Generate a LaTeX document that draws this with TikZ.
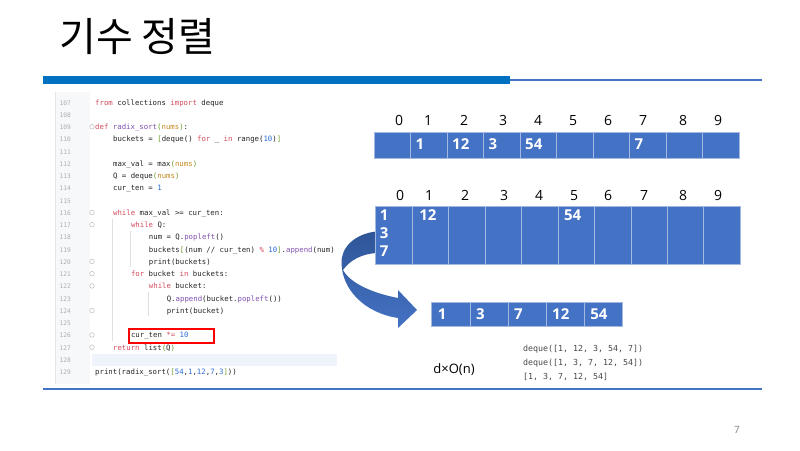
\documentclass[tikz,border=0pt]{standalone}
\usepackage{fontspec}
\setmainfont{Open Sans}
\setmonofont{DejaVu Sans Mono}
\newfontfamily\krfont{Noto Sans CJK KR}

\definecolor{cellblue}{HTML}{4472C4}
\definecolor{cellline}{HTML}{A4B9E2}
\definecolor{barblue}{HTML}{0070C0}
\definecolor{arrowdark}{HTML}{2F5597}
\definecolor{codekw}{HTML}{D14B5C}
\definecolor{codefn}{HTML}{8050B0}
\definecolor{codearg}{HTML}{C28A20}
\definecolor{codenum}{HTML}{2B6CD8}
\definecolor{codebr}{HTML}{6E9B2E}
\definecolor{codetxt}{HTML}{262626}
\definecolor{linenum}{HTML}{ADADAD}
\definecolor{gutter}{HTML}{F7F8FA}
\definecolor{curline}{HTML}{EEF3FC}

\newcommand{\ckw}[1]{\textcolor{codekw}{#1}}
\newcommand{\cfn}[1]{\textcolor{codefn}{#1}}
\newcommand{\carg}[1]{\textcolor{codearg}{#1}}
\newcommand{\cnum}[1]{\textcolor{codenum}{#1}}
\newcommand{\cbr}[1]{\textcolor{codebr}{#1}}
% code line positions
\newcommand{\codey}[1]{105+12.25*(#1-107)}
\newcommand{\codex}[1]{95+17.9*#1}

\tikzset{
  cell/.style={draw=cellline, fill=cellblue, line width=0.6pt, inner sep=0pt, outer sep=0pt, anchor=north west},
  val/.style={text=white, font=\fontsize{15}{18}\selectfont\bfseries, inner sep=1pt, align=left},
  idx/.style={font=\fontsize{14}{16}\selectfont, inner sep=0pt, anchor=base},
  code/.style={anchor=base west, inner sep=0pt, font=\ttfamily\fontsize{7.35}{9}\selectfont, text=codetxt},
  lnum/.style={anchor=base east, inner sep=0pt, font=\ttfamily\fontsize{6.2}{8}\selectfont, text=linenum},
  outline/.style={anchor=base west, inner sep=0pt, font=\ttfamily\fontsize{8.3}{10}\selectfont, text=black!72},
  fold/.style={draw=black!25, fill=white, line width=0.5pt},
  guide/.style={draw=black!12, line width=0.6pt},
}

\begin{document}
\begin{tikzpicture}[x=1pt, y=-1pt]
  \useasboundingbox (0,0) rectangle (800,450);

  % title and rules
  \node[anchor=west, inner sep=0pt, font=\krfont\fontsize{40}{44}\selectfont] (title) at (59,37) {기수 정렬};
  \fill[barblue] (43,76) rectangle (510,84);
  \draw[cellblue, line width=2pt] (510,79.5) -- (762,79.5);
  \draw[cellblue, line width=2.5pt] (43,389) -- (762,389);
  \node[font=\fontsize{10}{12}\selectfont, text=black!50] (pagenum) at (737,430) {7};

  % code panel
  \fill[gutter] (55,92) rectangle (90,384);
  \draw[black!10] (55,92) -- (55,384);
  \fill[curline] (92,353.5) rectangle (337,365.8);
  \foreach \n in {107,...,129}
    \node[lnum] (n\n) at ({71},{\codey{\n}}) {\n};
  \foreach \n in {109,116,117,120,121,122,124,126,127}
    \draw[fold] ({92},{\codey{\n}-2.8}) circle (2.3);
  \draw[guide] (112,{\codey{117}-9}) -- (112,{\codey{126}+3});
  \draw[guide] (130,{\codey{118}-9}) -- (130,{\codey{120}+3});
  \draw[guide] (148,{\codey{123}-9}) -- (148,{\codey{124}+3});

  \node[code] (l107) at ({\codex{0}},{\codey{107}}) {\ckw{from} collections \ckw{import} deque};
  \node[code] (l109) at ({\codex{0}},{\codey{109}}) {\ckw{def} \cfn{radix\_sort}\cbr{(}\carg{nums}\cbr{)}:};
  \node[code] (l110) at ({\codex{1}},{\codey{110}}) {buckets = \cbr{[}deque() \ckw{for} \_ \ckw{in} range(\cnum{10})\cbr{]}};
  \node[code] (l112) at ({\codex{1}},{\codey{112}}) {max\_val = max\cbr{(}\carg{nums}\cbr{)}};
  \node[code] (l113) at ({\codex{1}},{\codey{113}}) {Q = deque\cbr{(}\carg{nums}\cbr{)}};
  \node[code] (l114) at ({\codex{1}},{\codey{114}}) {cur\_ten = \cnum{1}};
  \node[code] (l116) at ({\codex{1}},{\codey{116}}) {\ckw{while} max\_val >= cur\_ten:};
  \node[code] (l117) at ({\codex{2}},{\codey{117}}) {\ckw{while} Q:};
  \node[code] (l118) at ({\codex{3}},{\codey{118}}) {num = Q.\cfn{popleft}()};
  \node[code] (l119) at ({\codex{3}},{\codey{119}}) {buckets\cbr{[}(num // cur\_ten) \ckw{\%} \cnum{10}\cbr{]}.\cfn{append}(num)};
  \node[code] (l120) at ({\codex{3}},{\codey{120}}) {print(buckets)};
  \node[code] (l121) at ({\codex{2}},{\codey{121}}) {\ckw{for} bucket \ckw{in} buckets:};
  \node[code] (l122) at ({\codex{3}},{\codey{122}}) {\ckw{while} bucket:};
  \node[code] (l123) at ({\codex{4}},{\codey{123}}) {Q.\cfn{append}(bucket.\cfn{popleft}())};
  \node[code] (l124) at ({\codex{4}},{\codey{124}}) {print(bucket)};
  \node[code] (l126) at ({\codex{2}},{\codey{126}}) {cur\_ten \ckw{*=} \cnum{10}};
  \node[code] (l127) at ({\codex{1}},{\codey{127}}) {\ckw{return} list\cbr{(}Q\cbr{)}};
  \node[code] (l129) at ({\codex{0}},{\codey{129}}) {print(radix\_sort(\cbr{[}\cnum{54},\cnum{1},\cnum{12},\cnum{7},\cnum{3}\cbr{]}))};
  \node[draw=red, line width=1.8pt, minimum width=85.6pt, minimum height=14pt, anchor=north west, inner sep=0pt] (curbox) at (127.7,327.7) {};

  % curved arrow
  \shade[top color=arrowdark, bottom color=cellblue]
    (376,231.5) .. controls (355,234) and (341,247) .. (341.5,263)
    .. controls (342,290) and (365,313) .. (398,318)
    -- (398,328) -- (417,310) -- (398,290) -- (398,298)
    .. controls (372,293) and (350,283) .. (343,270)
    .. controls (350,260) and (362,254) .. (376,253) -- cycle;

  % first pass buckets
  \foreach \i/\x in {0/399,1/428,2/464,3/503,4/538,5/573,6/608,7/643,8/683,9/718}
    \node[idx] (ia\i) at (\x,125) {\i};
  \foreach \i in {0,...,9}
    \node[cell, minimum width=36.5pt, minimum height=26.5pt] (a\i) at ({374+36.5*\i},132) {};
  \foreach \i/\v in {1/1,2/12,3/3,4/54,7/7}
    \node[val, anchor=west] (va\i) at ([xshift=4pt,yshift=1.5pt]a\i.west) {\v};

  % second pass buckets
  \foreach \i/\x in {0/400,1/429,2/465,3/504,4/539,5/574,6/608,7/644,8/683,9/718}
    \node[idx] (ib\i) at (\x,200) {\i};
  \foreach \i in {0,...,9}
    \node[cell, minimum width=36.45pt, minimum height=57.6pt] (b\i) at ({375.7+36.45*\i},206.7) {};
  \node[val, anchor=north west] (vb0) at ([xshift=3pt,yshift=-2pt]b0.north west) {1\\3\\7};
  \node[val, anchor=north west] (vb1) at ([xshift=6pt,yshift=-2pt]b1.north west) {12};
  \node[val, anchor=north west] (vb5) at ([xshift=5pt,yshift=-2pt]b5.north west) {54};

  % result queue
  \foreach \i/\v in {0/1,1/3,2/7,3/12,4/54} {
    \node[cell, minimum width=38.1pt, minimum height=24pt] (c\i) at ({431.7+38.1*\i},302) {};
    \node[val, anchor=west] (vc\i) at ([xshift=5pt]c\i.west) {\v};
  }

  % complexity and output
  \node[font=\fontsize{13}{15}\selectfont, inner sep=0pt] (cost) at (454,370) {d×O(n)};
  \node[outline] (o1) at (523,351) {deque([1, 12, 3, 54, 7])};
  \node[outline] (o2) at (523,365) {deque([1, 3, 7, 12, 54])};
  \node[outline] (o3) at (523,379) {[1, 3, 7, 12, 54]};
\end{tikzpicture}
\end{document}
